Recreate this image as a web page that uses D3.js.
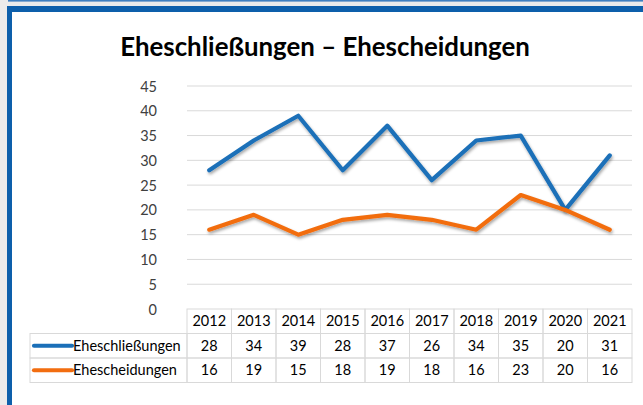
<!DOCTYPE html>
<html>
<head>
<meta charset="utf-8">
<script src="https://cdnjs.cloudflare.com/ajax/libs/d3/7.8.5/d3.min.js"></script>
<style>
  html, body { margin: 0; padding: 0; background: #ebebeb; }
  svg { display: block; }
</style>
</head>
<body>
<svg id="chart" width="643" height="405"></svg>
<script>
const title = "Eheschließungen – Ehescheidungen";
const years = ["2012","2013","2014","2015","2016","2017","2018","2019","2020","2021"];
const seriesNames = ["Eheschließungen", "Ehescheidungen"];
const eheschliessungen = [28, 34, 39, 28, 37, 26, 34, 35, 20, 31];
const ehescheidungen = [16, 19, 15, 18, 19, 18, 16, 23, 20, 16];
const yTicks = [0, 5, 10, 15, 20, 25, 30, 35, 40, 45];

const seriesValues = [eheschliessungen, ehescheidungen];
const colors = ["#1a6fb8", "#f26d10"];
const FONT = "Lato, 'Open Sans', 'DejaVu Sans', sans-serif";

const svg = d3.select("#chart");
const W = 643, H = 405;

// frame
svg.append("rect").attr("x", 0).attr("y", 0).attr("width", W).attr("height", H).attr("fill", "#ebebeb");
svg.append("rect").attr("x", 8).attr("y", 0).attr("width", W - 8).attr("height", 1.6).attr("fill", "#3f7fc0");
svg.append("rect").attr("x", 7).attr("y", 6).attr("width", W - 7).attr("height", H - 6).attr("fill", "#0d5fab");
svg.append("rect").attr("x", 12).attr("y", 12).attr("width", W - 12).attr("height", H - 12).attr("fill", "#ffffff");

// shadow filter
const defs = svg.append("defs");
const f = defs.append("filter").attr("id", "shadow").attr("x", "-10%").attr("y", "-10%").attr("width", "120%").attr("height", "130%");
f.append("feDropShadow").attr("dx", 1).attr("dy", 2).attr("stdDeviation", 1.5).attr("flood-color", "#000").attr("flood-opacity", 0.35);

// title
const t = svg.append("text")
  .attr("x", 325).attr("y", 56)
  .attr("text-anchor", "middle")
  .attr("font-family", FONT)
  .attr("font-weight", "bold")
  .attr("font-size", 24)
  .attr("fill", "#000")
  .text(title);
const tw = t.node().getComputedTextLength();
t.attr("font-size", 24 * 410 / tw);

// scales
const plotLeft = 187, plotRight = 632, plotTop = 86, plotBottom = 309;
const x = d3.scaleBand().domain(years).range([plotLeft, plotRight]).padding(0);
const y = d3.scaleLinear().domain([0, 45]).range([plotBottom, plotTop]);

// gridlines
svg.append("g").selectAll("line").data(yTicks.filter(d => d > 0)).join("line")
  .attr("x1", plotLeft).attr("x2", plotRight)
  .attr("y1", d => y(d)).attr("y2", d => y(d))
  .attr("stroke", "#d9d9d9").attr("stroke-width", 1);

// y axis labels
const yAxis = d3.axisLeft(y).tickValues(yTicks).tickSize(0).tickPadding(0).tickFormat(d3.format("d"));
const ya = svg.append("g").attr("transform", `translate(${157},0)`).call(yAxis);
ya.select(".domain").remove();
ya.selectAll("text").attr("font-family", FONT).attr("font-size", 14.5).attr("fill", "#404040").attr("dy", "0.35em");

// lines
const line = d3.line().x((d, i) => x(years[i]) + x.bandwidth() / 2).y(d => y(d));
seriesValues.forEach((vals, k) => {
  svg.append("path")
    .datum(vals)
    .attr("d", line)
    .attr("fill", "none")
    .attr("stroke", colors[k])
    .attr("stroke-width", 4.2)
    .attr("stroke-linejoin", "round")
    .attr("stroke-linecap", "round")
    .attr("filter", "url(#shadow)");
});

// data table
const rowH = 24.5;
const tableTop = plotBottom;
const legendLeft = 30;
const g = svg.append("g");
const gridColor = "#d9d9d9";

years.forEach(yr => {
  g.append("rect").attr("x", x(yr)).attr("y", tableTop).attr("width", x.bandwidth()).attr("height", rowH)
    .attr("fill", "none").attr("stroke", gridColor);
  g.append("text").attr("x", x(yr) + x.bandwidth() / 2).attr("y", tableTop + rowH / 2)
    .attr("dy", "0.36em").attr("text-anchor", "middle")
    .attr("font-family", FONT).attr("font-size", 14.5).attr("fill", "#000").text(yr);
});

seriesValues.forEach((vals, k) => {
  const ry = tableTop + rowH * (k + 1);
  g.append("rect").attr("x", legendLeft).attr("y", ry).attr("width", plotLeft - legendLeft).attr("height", rowH)
    .attr("fill", "none").attr("stroke", gridColor);
  g.append("line").attr("x1", legendLeft + 4).attr("x2", legendLeft + 42)
    .attr("y1", ry + rowH / 2).attr("y2", ry + rowH / 2)
    .attr("stroke", colors[k]).attr("stroke-width", 4.2).attr("stroke-linecap", "round");
  g.append("text").attr("x", legendLeft + 43).attr("y", ry + rowH / 2).attr("dy", "0.36em")
    .attr("font-family", FONT).attr("font-size", 14.5).attr("fill", "#000").text(seriesNames[k]);
  vals.forEach((v, i) => {
    g.append("rect").attr("x", x(years[i])).attr("y", ry).attr("width", x.bandwidth()).attr("height", rowH)
      .attr("fill", "none").attr("stroke", gridColor);
    g.append("text").attr("x", x(years[i]) + x.bandwidth() / 2).attr("y", ry + rowH / 2)
      .attr("dy", "0.36em").attr("text-anchor", "middle")
      .attr("font-family", FONT).attr("font-size", 14.5).attr("fill", "#000").text(v);
  });
});
</script>
</body>
</html>
